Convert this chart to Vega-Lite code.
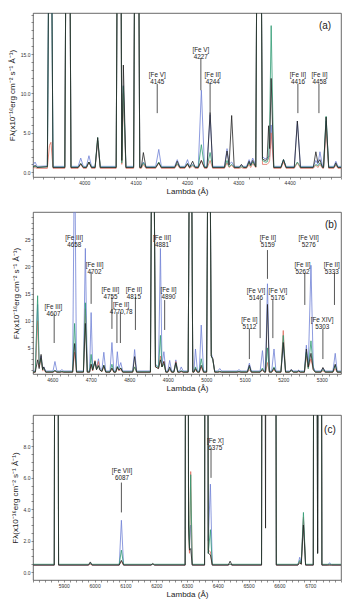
{
  "$schema": "https://vega.github.io/schema/vega-lite/v6.json",
  "padding": {"left": 7, "top": 12, "right": 5, "bottom": 5},
  "spacing": 15,
  "config": {
    "font": "Liberation Sans",
    "view": {"stroke": "#444", "strokeWidth": 0.8},
    "axis": {"labelFont": "Liberation Sans", "labelFontSize": 5, "labelColor": "#333", "titleFont": "Liberation Sans", "titleFontSize": 8, "titleFontWeight": "normal", "titleColor": "#222", "domain": false, "grid": false, "tickColor": "#444", "tickSize": 2, "tickWidth": 0.6, "labelPadding": 1},
    "axisX": {"titlePadding": 2},
    "axisY": {"titlePadding": 4, "labelPadding": 1}
  },
  "datasets": {
    "specA": [
      {"lam":3900,"blue":0.9,"red":0.5,"green":0.65,"black":0.6},
      {"lam":3904,"blue":1.3,"red":0.6,"green":0.75,"black":0.9},
      {"lam":3908,"blue":0.75,"red":0.5,"green":0.65,"black":0.6},
      {"lam":3928,"blue":0.8,"red":0.5,"green":0.7,"black":0.7},
      {"lam":3932,"blue":40,"red":3.4,"green":40,"black":40},
      {"lam":3935,"blue":40,"red":3.8,"green":40,"black":40},
      {"lam":3939,"blue":0.75,"red":0.5,"green":0.65,"black":0.6},
      {"lam":3962,"blue":0.75,"red":0.5,"green":0.65,"black":0.6},
      {"lam":3966.5,"blue":60,"red":60,"green":60,"black":60},
      {"lam":3969.5,"blue":60,"red":60,"green":60,"black":60},
      {"lam":3974,"blue":0.75,"red":0.5,"green":0.65,"black":0.6},
      {"lam":3988,"blue":0.75,"red":0.5,"green":0.65,"black":0.6},
      {"lam":3993,"blue":1.8,"red":1.0,"green":1.1,"black":1.1},
      {"lam":3998,"blue":0.75,"red":0.5,"green":0.65,"black":0.6},
      {"lam":4004,"blue":0.75,"red":0.5,"green":0.65,"black":0.6},
      {"lam":4009,"blue":2.1,"red":1.3,"green":1.3,"black":1.3},
      {"lam":4014,"blue":0.75,"red":0.5,"green":0.65,"black":0.6},
      {"lam":4021,"blue":0.75,"red":0.5,"green":0.65,"black":0.6},
      {"lam":4026,"blue":4.0,"red":4.0,"green":4.4,"black":4.4},
      {"lam":4031,"blue":0.75,"red":0.5,"green":0.65,"black":0.6},
      {"lam":4062,"blue":0.75,"red":0.5,"green":0.65,"black":0.6},
      {"lam":4066.5,"blue":60,"red":60,"green":60,"black":60},
      {"lam":4069.5,"blue":60,"red":60,"green":60,"black":60},
      {"lam":4073,"blue":2,"red":1,"green":1.2,"black":1.5},
      {"lam":4076,"blue":11,"red":10,"green":10.9,"black":13.6},
      {"lam":4081,"blue":0.75,"red":0.5,"green":0.65,"black":0.6},
      {"lam":4096,"blue":0.75,"red":0.5,"green":0.65,"black":0.6},
      {"lam":4100.5,"blue":60,"red":60,"green":60,"black":60},
      {"lam":4103.5,"blue":60,"red":60,"green":60,"black":60},
      {"lam":4108,"blue":0.75,"red":0.5,"green":0.65,"black":0.6},
      {"lam":4111,"blue":0.75,"red":0.5,"green":0.65,"black":0.6},
      {"lam":4115,"blue":1.3,"red":1.0,"green":1.2,"black":2.5},
      {"lam":4120,"blue":0.75,"red":0.5,"green":0.65,"black":0.6},
      {"lam":4139,"blue":0.75,"red":0.5,"green":0.65,"black":0.6},
      {"lam":4145,"blue":2.9,"red":1.2,"green":1.3,"black":1.2},
      {"lam":4150,"blue":0.75,"red":0.5,"green":0.65,"black":0.6},
      {"lam":4176,"blue":0.75,"red":0.5,"green":0.65,"black":0.6},
      {"lam":4181,"blue":1.6,"red":1.0,"green":1.1,"black":1.4},
      {"lam":4186,"blue":0.75,"red":0.5,"green":0.65,"black":0.6},
      {"lam":4196,"blue":0.75,"red":0.5,"green":0.65,"black":0.6},
      {"lam":4201,"blue":1.6,"red":1.0,"green":1.1,"black":1.1},
      {"lam":4205,"blue":0.75,"red":0.5,"green":0.65,"black":0.6},
      {"lam":4211,"blue":1.0,"red":0.8,"green":0.9,"black":1.4},
      {"lam":4216,"blue":0.75,"red":0.5,"green":0.65,"black":0.6},
      {"lam":4222,"blue":0.75,"red":0.5,"green":0.65,"black":0.6},
      {"lam":4228,"blue":10.4,"red":1.5,"green":3.5,"black":1.5},
      {"lam":4234,"blue":0.75,"red":0.5,"green":0.65,"black":0.6},
      {"lam":4239,"blue":0.75,"red":0.5,"green":0.65,"black":0.6},
      {"lam":4245,"blue":7.3,"red":1.5,"green":2.5,"black":7.6},
      {"lam":4250,"blue":0.75,"red":0.5,"green":0.65,"black":0.6},
      {"lam":4273,"blue":0.75,"red":0.5,"green":0.65,"black":0.6},
      {"lam":4278,"blue":3.0,"red":1.2,"green":1.5,"black":2.7},
      {"lam":4282,"blue":1.0,"red":0.6,"green":0.7,"black":0.9},
      {"lam":4287,"blue":1.3,"red":0.9,"green":1.0,"black":7.2},
      {"lam":4292,"blue":0.75,"red":0.5,"green":0.65,"black":0.6},
      {"lam":4302,"blue":0.75,"red":0.5,"green":0.65,"black":0.6},
      {"lam":4306,"blue":0.9,"red":0.6,"green":0.7,"black":1.0},
      {"lam":4310,"blue":0.75,"red":0.5,"green":0.65,"black":0.6},
      {"lam":4316,"blue":0.75,"red":0.5,"green":0.65,"black":0.6},
      {"lam":4321,"blue":1.6,"red":1.0,"green":1.2,"black":1.4},
      {"lam":4324,"blue":1.0,"red":0.6,"green":0.8,"black":0.9},
      {"lam":4328,"blue":1.8,"red":1.1,"green":1.3,"black":1.5},
      {"lam":4334,"blue":0.9,"red":0.6,"green":0.7,"black":0.7},
      {"lam":4338.5,"blue":60,"red":60,"green":60,"black":60},
      {"lam":4341.5,"blue":60,"red":60,"green":60,"black":60},
      {"lam":4347,"blue":2,"red":1,"green":1.5,"black":1.7},
      {"lam":4352,"blue":1.7,"red":1,"green":1.3,"black":1.5},
      {"lam":4356,"blue":1.8,"red":1.0,"green":1.3,"black":1.6},
      {"lam":4359,"blue":2,"red":1.2,"green":1.8,"black":5.9},
      {"lam":4361,"blue":2,"red":1.5,"green":6,"black":3},
      {"lam":4364,"blue":6,"red":5,"green":18.6,"black":11.9},
      {"lam":4369,"blue":0.75,"red":0.5,"green":0.65,"black":0.6},
      {"lam":4383,"blue":0.75,"red":0.5,"green":0.65,"black":0.6},
      {"lam":4388,"blue":1.6,"red":1.3,"green":1.6,"black":1.6},
      {"lam":4393,"blue":0.75,"red":0.5,"green":0.65,"black":0.6},
      {"lam":4409,"blue":0.75,"red":0.5,"green":0.65,"black":0.6},
      {"lam":4415,"blue":6.5,"red":1.2,"green":1.3,"black":6.5},
      {"lam":4421,"blue":0.75,"red":0.5,"green":0.65,"black":0.6},
      {"lam":4446,"blue":0.75,"red":0.5,"green":0.65,"black":0.6},
      {"lam":4451,"blue":1.5,"red":0.9,"green":1.0,"black":2.6},
      {"lam":4455,"blue":1.0,"red":0.6,"green":0.8,"black":1.2},
      {"lam":4459,"blue":2.6,"red":1.0,"green":1.2,"black":1.6},
      {"lam":4464,"blue":0.75,"red":0.5,"green":0.65,"black":0.6},
      {"lam":4466,"blue":0.75,"red":0.5,"green":0.65,"black":0.6},
      {"lam":4471,"blue":6.5,"red":5.5,"green":7.1,"black":7.0},
      {"lam":4476,"blue":0.75,"red":0.5,"green":0.65,"black":0.6},
      {"lam":4486,"blue":0.75,"red":0.5,"green":0.65,"black":0.6},
      {"lam":4490,"blue":1.4,"red":0.9,"green":1.0,"black":1.2},
      {"lam":4494,"blue":0.75,"red":0.5,"green":0.65,"black":0.6},
      {"lam":4500,"blue":0.75,"red":0.5,"green":0.65,"black":0.6}
    ],
    "specB": [
      {"lam":4550,"blue":0.75,"red":0.5,"green":0.6,"black":0.55},
      {"lam":4556,"blue":0.75,"red":0.5,"green":0.6,"black":0.55},
      {"lam":4562,"blue":13.0,"red":10.0,"green":14.6,"black":2.8},
      {"lam":4566,"blue":2.0,"red":1.5,"green":2.0,"black":1.2},
      {"lam":4571,"blue":3.5,"red":3.0,"green":3.0,"black":3.8},
      {"lam":4575,"blue":1.2,"red":0.8,"green":1.0,"black":1.0},
      {"lam":4578,"blue":1.5,"red":1.0,"green":1.2,"black":1.5},
      {"lam":4583,"blue":0.75,"red":0.5,"green":0.6,"black":0.55},
      {"lam":4602,"blue":0.75,"red":0.5,"green":0.6,"black":0.55},
      {"lam":4607,"blue":2.5,"red":0.8,"green":0.9,"black":0.8},
      {"lam":4612,"blue":0.75,"red":0.5,"green":0.6,"black":0.55},
      {"lam":4620,"blue":0.75,"red":0.5,"green":0.6,"black":0.55},
      {"lam":4625,"blue":1.0,"red":0.6,"green":0.7,"black":0.6},
      {"lam":4630,"blue":0.75,"red":0.5,"green":0.6,"black":0.55},
      {"lam":4653,"blue":0.75,"red":0.5,"green":0.6,"black":0.55},
      {"lam":4658,"blue":45,"red":4.2,"green":9.5,"black":5.8},
      {"lam":4663,"blue":0.75,"red":0.5,"green":0.6,"black":0.55},
      {"lam":4681,"blue":0.75,"red":0.5,"green":0.6,"black":0.55},
      {"lam":4686,"blue":23.3,"red":12.2,"green":13.3,"black":9.5},
      {"lam":4691,"blue":0.75,"red":0.5,"green":0.6,"black":0.55},
      {"lam":4697,"blue":0.75,"red":0.5,"green":0.6,"black":0.55},
      {"lam":4701,"blue":11.5,"red":2.0,"green":3.8,"black":2.0},
      {"lam":4705,"blue":1.2,"red":0.8,"green":1.0,"black":0.9},
      {"lam":4711,"blue":2.5,"red":2.7,"green":2.5,"black":2.5},
      {"lam":4715,"blue":1.2,"red":1.0,"green":1.0,"black":1.0},
      {"lam":4720,"blue":3.0,"red":2.5,"green":1.8,"black":1.7},
      {"lam":4724,"blue":1.3,"red":0.9,"green":1.0,"black":0.9},
      {"lam":4729,"blue":1.0,"red":0.6,"green":0.7,"black":0.7},
      {"lam":4734,"blue":4.2,"red":1.5,"green":1.8,"black":1.8},
      {"lam":4739,"blue":0.75,"red":0.5,"green":0.6,"black":0.55},
      {"lam":4750,"blue":0.75,"red":0.5,"green":0.6,"black":0.55},
      {"lam":4755,"blue":6.0,"red":1.2,"green":2.0,"black":1.3},
      {"lam":4760,"blue":0.75,"red":0.5,"green":0.6,"black":0.55},
      {"lam":4765,"blue":0.75,"red":0.5,"green":0.6,"black":0.55},
      {"lam":4769,"blue":4.3,"red":1.3,"green":1.6,"black":1.5},
      {"lam":4773,"blue":1.2,"red":0.8,"green":1.0,"black":0.9},
      {"lam":4778,"blue":2.3,"red":1.0,"green":1.3,"black":1.3},
      {"lam":4783,"blue":0.75,"red":0.5,"green":0.6,"black":0.55},
      {"lam":4809,"blue":0.75,"red":0.5,"green":0.6,"black":0.55},
      {"lam":4814,"blue":4.7,"red":1.5,"green":1.5,"black":3.4},
      {"lam":4819,"blue":0.75,"red":0.5,"green":0.6,"black":0.55},
      {"lam":4855,"blue":0.75,"red":0.5,"green":0.6,"black":0.55},
      {"lam":4859.5,"blue":60,"red":60,"green":60,"black":60},
      {"lam":4862.5,"blue":60,"red":60,"green":60,"black":60},
      {"lam":4868,"blue":2,"red":1.5,"green":1.8,"black":1.5},
      {"lam":4876,"blue":1.5,"red":1.2,"green":1.4,"black":1.2},
      {"lam":4881,"blue":23.3,"red":3.5,"green":7.3,"black":2.8},
      {"lam":4885,"blue":2,"red":1.5,"green":1.5,"black":1.5},
      {"lam":4890,"blue":4.3,"red":2.5,"green":2.0,"black":2.5},
      {"lam":4895,"blue":0.75,"red":0.5,"green":0.6,"black":0.55},
      {"lam":4900,"blue":0.75,"red":0.5,"green":0.6,"black":0.55},
      {"lam":4905,"blue":2.7,"red":1.0,"green":1.2,"black":1.5},
      {"lam":4910,"blue":0.75,"red":0.5,"green":0.6,"black":0.55},
      {"lam":4916,"blue":0.75,"red":0.5,"green":0.6,"black":0.55},
      {"lam":4921,"blue":2.8,"red":2.5,"green":2.2,"black":2.3},
      {"lam":4926,"blue":0.75,"red":0.5,"green":0.6,"black":0.55},
      {"lam":4931,"blue":0.75,"red":0.5,"green":0.6,"black":0.55},
      {"lam":4935,"blue":1.5,"red":0.6,"green":0.8,"black":0.7},
      {"lam":4940,"blue":0.75,"red":0.5,"green":0.6,"black":0.55},
      {"lam":4953,"blue":0.75,"red":0.5,"green":0.6,"black":0.55},
      {"lam":4957.5,"blue":60,"red":60,"green":60,"black":60},
      {"lam":4960.5,"blue":60,"red":60,"green":60,"black":60},
      {"lam":4965,"blue":0.75,"red":0.5,"green":0.6,"black":0.55},
      {"lam":4968,"blue":0.75,"red":0.5,"green":0.6,"black":0.55},
      {"lam":4972,"blue":4.8,"red":1.0,"green":1.5,"black":1.2},
      {"lam":4977,"blue":0.75,"red":0.5,"green":0.6,"black":0.55},
      {"lam":4982,"blue":0.75,"red":0.5,"green":0.6,"black":0.55},
      {"lam":4987,"blue":9.2,"red":1.5,"green":3.0,"black":1.8},
      {"lam":4993,"blue":0.75,"red":0.5,"green":0.6,"black":0.55},
      {"lam":5001,"blue":0.75,"red":0.5,"green":0.6,"black":0.55},
      {"lam":5005.5,"blue":60,"red":60,"green":60,"black":60},
      {"lam":5008.5,"blue":60,"red":60,"green":60,"black":60},
      {"lam":5013,"blue":4,"red":3.5,"green":3.5,"black":3.5},
      {"lam":5017,"blue":3.0,"red":3.0,"green":2.8,"black":3.0},
      {"lam":5022,"blue":0.75,"red":0.5,"green":0.6,"black":0.55},
      {"lam":5030,"blue":0.75,"red":0.5,"green":0.6,"black":0.55},
      {"lam":5035,"blue":1.2,"red":0.6,"green":0.7,"black":0.6},
      {"lam":5040,"blue":0.75,"red":0.5,"green":0.6,"black":0.55},
      {"lam":5080,"blue":0.75,"red":0.5,"green":0.6,"black":0.55},
      {"lam":5085,"blue":1.0,"red":0.6,"green":0.7,"black":0.6},
      {"lam":5090,"blue":0.75,"red":0.5,"green":0.6,"black":0.55},
      {"lam":5107,"blue":0.75,"red":0.5,"green":0.6,"black":0.55},
      {"lam":5112,"blue":2.2,"red":1.0,"green":1.5,"black":1.8},
      {"lam":5117,"blue":0.75,"red":0.5,"green":0.6,"black":0.55},
      {"lam":5140,"blue":0.75,"red":0.5,"green":0.6,"black":0.55},
      {"lam":5146,"blue":4.5,"red":1.0,"green":1.3,"black":1.0},
      {"lam":5151,"blue":0.75,"red":0.5,"green":0.6,"black":0.55},
      {"lam":5154,"blue":0.75,"red":0.5,"green":0.6,"black":0.55},
      {"lam":5159,"blue":16.8,"red":2.3,"green":5.0,"black":13.0},
      {"lam":5164,"blue":0.75,"red":0.5,"green":0.6,"black":0.55},
      {"lam":5170,"blue":0.75,"red":0.5,"green":0.6,"black":0.55},
      {"lam":5176,"blue":4.8,"red":1.0,"green":1.5,"black":1.3},
      {"lam":5181,"blue":0.75,"red":0.5,"green":0.6,"black":0.55},
      {"lam":5194,"blue":0.75,"red":0.5,"green":0.6,"black":0.55},
      {"lam":5200,"blue":5.5,"red":8.2,"green":7.3,"black":6.0},
      {"lam":5206,"blue":0.75,"red":0.5,"green":0.6,"black":0.55},
      {"lam":5216,"blue":0.75,"red":0.5,"green":0.6,"black":0.55},
      {"lam":5221,"blue":1.0,"red":0.8,"green":0.8,"black":1.0},
      {"lam":5226,"blue":0.75,"red":0.5,"green":0.6,"black":0.55},
      {"lam":5236,"blue":0.75,"red":0.5,"green":0.6,"black":0.55},
      {"lam":5240,"blue":0.9,"red":0.6,"green":0.7,"black":0.8},
      {"lam":5244,"blue":0.75,"red":0.5,"green":0.6,"black":0.55},
      {"lam":5255,"blue":0.75,"red":0.5,"green":0.6,"black":0.55},
      {"lam":5260,"blue":5.5,"red":3.5,"green":4.2,"black":4.8},
      {"lam":5265,"blue":1.5,"red":1.2,"green":1.2,"black":1.5},
      {"lam":5272,"blue":20.2,"red":3.0,"green":6.3,"black":4.0},
      {"lam":5278,"blue":1.5,"red":1.0,"green":1.2,"black":1.0},
      {"lam":5283,"blue":0.75,"red":0.5,"green":0.6,"black":0.55},
      {"lam":5298,"blue":0.75,"red":0.5,"green":0.6,"black":0.55},
      {"lam":5303,"blue":1.3,"red":0.8,"green":1.0,"black":1.4},
      {"lam":5309,"blue":0.75,"red":0.5,"green":0.6,"black":0.55},
      {"lam":5329,"blue":0.75,"red":0.5,"green":0.6,"black":0.55},
      {"lam":5335,"blue":4.0,"red":1.2,"green":1.8,"black":2.0},
      {"lam":5340,"blue":0.75,"red":0.5,"green":0.6,"black":0.55},
      {"lam":5350,"blue":0.75,"red":0.5,"green":0.6,"black":0.55}
    ],
    "specC": [
      {"lam":5800,"blue":0.45,"red":0.45,"green":0.5,"black":0.45},
      {"lam":5869,"blue":0.45,"red":0.45,"green":0.5,"black":0.45},
      {"lam":5874.5,"blue":60,"red":60,"green":60,"black":60},
      {"lam":5877.5,"blue":60,"red":60,"green":60,"black":60},
      {"lam":5883,"blue":0.45,"red":0.45,"green":0.5,"black":0.45},
      {"lam":5980,"blue":0.45,"red":0.45,"green":0.5,"black":0.45},
      {"lam":5986,"blue":0.55,"red":0.5,"green":0.55,"black":0.65},
      {"lam":5992,"blue":0.45,"red":0.45,"green":0.5,"black":0.45},
      {"lam":6080,"blue":0.45,"red":0.45,"green":0.5,"black":0.45},
      {"lam":6087,"blue":3.3,"red":0.7,"green":1.4,"black":0.75},
      {"lam":6094,"blue":0.45,"red":0.45,"green":0.5,"black":0.45},
      {"lam":6183,"blue":0.45,"red":0.45,"green":0.5,"black":0.45},
      {"lam":6189,"blue":0.5,"red":0.5,"green":0.5,"black":0.55},
      {"lam":6195,"blue":0.45,"red":0.45,"green":0.5,"black":0.45},
      {"lam":6294,"blue":0.45,"red":0.45,"green":0.5,"black":0.45},
      {"lam":6298.5,"blue":60,"red":60,"green":60,"black":60},
      {"lam":6301.5,"blue":60,"red":60,"green":60,"black":60},
      {"lam":6305,"blue":3,"red":3,"green":3,"black":3},
      {"lam":6308,"blue":2,"red":1.2,"green":1.5,"black":1.4},
      {"lam":6312,"blue":3.0,"red":6.4,"green":6.2,"black":1.5},
      {"lam":6317,"blue":0.45,"red":0.45,"green":0.5,"black":0.45},
      {"lam":6357,"blue":0.45,"red":0.45,"green":0.5,"black":0.45},
      {"lam":6361.5,"blue":60,"red":60,"green":60,"black":60},
      {"lam":6364.5,"blue":60,"red":60,"green":60,"black":60},
      {"lam":6369,"blue":2,"red":1.4,"green":1.2,"black":1.2},
      {"lam":6376,"blue":5.6,"red":1.3,"green":2.7,"black":1.1},
      {"lam":6382,"blue":0.45,"red":0.45,"green":0.5,"black":0.45},
      {"lam":6434,"blue":0.45,"red":0.45,"green":0.5,"black":0.45},
      {"lam":6440,"blue":0.5,"red":0.5,"green":0.5,"black":0.7},
      {"lam":6446,"blue":0.45,"red":0.45,"green":0.5,"black":0.45},
      {"lam":6542,"blue":0.45,"red":0.45,"green":0.5,"black":0.45},
      {"lam":6546.5,"blue":60,"red":60,"green":60,"black":60},
      {"lam":6549.5,"blue":60,"red":60,"green":60,"black":60},
      {"lam":6555,"blue":12,"red":12,"green":12,"black":2.8},
      {"lam":6561.5,"blue":100,"red":100,"green":100,"black":100},
      {"lam":6564.5,"blue":100,"red":100,"green":100,"black":100},
      {"lam":6574,"blue":12,"red":12,"green":12,"black":12},
      {"lam":6581.5,"blue":60,"red":60,"green":60,"black":60},
      {"lam":6584.5,"blue":60,"red":60,"green":60,"black":60},
      {"lam":6590,"blue":0.45,"red":0.45,"green":0.5,"black":0.45},
      {"lam":6660,"blue":0.45,"red":0.45,"green":0.5,"black":0.45},
      {"lam":6666,"blue":0.95,"red":0.7,"green":0.75,"black":0.6},
      {"lam":6671,"blue":0.6,"red":0.5,"green":0.55,"black":0.5},
      {"lam":6678,"blue":3.4,"red":3.5,"green":3.8,"black":3.0},
      {"lam":6685,"blue":0.45,"red":0.45,"green":0.5,"black":0.45},
      {"lam":6710,"blue":0.45,"red":0.45,"green":0.5,"black":0.45},
      {"lam":6714.5,"blue":60,"red":60,"green":60,"black":60},
      {"lam":6717.5,"blue":60,"red":60,"green":60,"black":60},
      {"lam":6724,"blue":1.2,"red":1.2,"green":1.2,"black":1.2},
      {"lam":6729.5,"blue":60,"red":60,"green":60,"black":60},
      {"lam":6732.5,"blue":60,"red":60,"green":60,"black":60},
      {"lam":6738,"blue":0.45,"red":0.45,"green":0.5,"black":0.45},
      {"lam":6757,"blue":0.45,"red":0.45,"green":0.5,"black":0.45},
      {"lam":6763,"blue":0.6,"red":0.45,"green":0.5,"black":0.45},
      {"lam":6769,"blue":0.45,"red":0.45,"green":0.5,"black":0.45},
      {"lam":6800,"blue":0.45,"red":0.45,"green":0.5,"black":0.45}
    ],
    "txtA": [
      {"x":4142,"y":12.3,"t":"[Fe V]\n4145"},
      {"x":4227,"y":15.5,"t":"[Fe V]\n4227"},
      {"x":4250,"y":12.3,"t":"[Fe II]\n4244"},
      {"x":4416,"y":12.3,"t":"[Fe II]\n4416"},
      {"x":4458,"y":12.3,"t":"[Fe II]\n4458"}
    ],
    "lnA": [
      {"x":4142,"y1":11.2,"y2":7.5},
      {"x":4227,"y1":14.5,"y2":10.4},
      {"x":4245,"y1":11.3,"y2":7.6},
      {"x":4416,"y1":11.2,"y2":7.5},
      {"x":4457,"y1":11.2,"y2":7.5}
    ],
    "txtB": [
      {"x":4603,"y":12.5,"t":"[Fe III]\n4607"},
      {"x":4657,"y":25.2,"t":"[Fe III]\n4658"},
      {"x":4710,"y":20.3,"t":"[Fe III]\n4702"},
      {"x":4751,"y":15.6,"t":"[Fe III]\n4755"},
      {"x":4779,"y":12.9,"t":"[Fe II]\n4770,78"},
      {"x":4812,"y":15.6,"t":"[Fe II]\n4815"},
      {"x":4885,"y":25.2,"t":"[Fe III]\n4881"},
      {"x":4902,"y":15.6,"t":"[Fe II]\n4890"},
      {"x":5112,"y":10.2,"t":"[Fe II]\n5112"},
      {"x":5129,"y":15.4,"t":"[Fe VI]\n5146"},
      {"x":5160,"y":25.2,"t":"[Fe II]\n5159"},
      {"x":5186,"y":15.4,"t":"[Fe VI]\n5176"},
      {"x":5266,"y":25.2,"t":"[Fe VII]\n5276"},
      {"x":5250,"y":20.3,"t":"[Fe II]\n5262"},
      {"x":5301,"y":10.2,"t":"[Fe XIV]\n5303"},
      {"x":5326,"y":20.3,"t":"[Fe II]\n5333"}
    ],
    "lnB": [
      {"x":4605,"y1":11.2,"y2":5.9},
      {"x":4701,"y1":19.0,"y2":13.1},
      {"x":4755,"y1":14.4,"y2":8.5},
      {"x":4768,"y1":11.6,"y2":5.9},
      {"x":4777,"y1":11.6,"y2":5.9},
      {"x":4816,"y1":14.4,"y2":8.3},
      {"x":4892,"y1":13.8,"y2":8.3},
      {"x":5112,"y1":8.5,"y2":2.95},
      {"x":5140,"y1":13.8,"y2":6.8},
      {"x":5159,"y1":23.0,"y2":17.7},
      {"x":5173,"y1":13.8,"y2":6.8},
      {"x":5256,"y1":18.8,"y2":12.9},
      {"x":5303,"y1":8.5,"y2":2.95},
      {"x":5333,"y1":18.8,"y2":12.9}
    ],
    "txtC": [
      {"x":6089,"y":6.46,"t":"[Fe VII]\n6087"},
      {"x":6392,"y":8.36,"t":"[Fe X]\n6375"}
    ],
    "lnC": [
      {"x":6087,"y1":5.7,"y2":3.8},
      {"x":6378,"y1":7.87,"y2":6.0}
    ]
  },
  "vconcat": [
    {
      "width": 308, "height": 164,
      "encoding": {
        "x": {"type": "quantitative", "scale": {"domain": [3900, 4500], "nice": false, "zero": false},
              "axis": {"title": "Lambda (Å)", "values": [3900,3920,3940,3960,3980,4000,4020,4040,4060,4080,4100,4120,4140,4160,4180,4200,4220,4240,4260,4280,4300,4320,4340,4360,4380,4400,4420,4440,4460,4480,4500],
                       "labelExpr": "datum.value % 100 === 0 && datum.value > 3900 && datum.value < 4500 ? datum.label : ''", "format": "d"}},
        "y": {"type": "quantitative", "scale": {"domain": [-0.6, 20.2], "nice": false, "zero": false},
              "axis": {"title": "Fλ(x10⁻¹⁶erg cm⁻² s⁻¹ Å⁻¹)", "values": [0,1,2,3,4,5,6,7,8,9,10,11,12,13,14,15,16,17,18,19,20],
                       "labelExpr": "datum.value % 5 === 0 && datum.value < 20 ? format(datum.value, '.1f') : ''"}}
      },
      "layer": [
        {"data": {"name": "specA"}, "mark": {"type": "line", "color": "#7082d6", "strokeWidth": 0.8, "clip": true}, "encoding": {"x": {"field": "lam"}, "y": {"field": "blue"}}},
        {"data": {"name": "specA"}, "mark": {"type": "line", "color": "#e0705f", "strokeWidth": 0.8, "clip": true}, "encoding": {"x": {"field": "lam"}, "y": {"field": "red"}}},
        {"data": {"name": "specA"}, "mark": {"type": "line", "color": "#2f9a72", "strokeWidth": 0.8, "clip": true}, "encoding": {"x": {"field": "lam"}, "y": {"field": "green"}}},
        {"data": {"name": "specA"}, "mark": {"type": "line", "color": "#222222", "strokeWidth": 0.8, "clip": true}, "encoding": {"x": {"field": "lam"}, "y": {"field": "black"}}},
        {"data": {"name": "lnA"}, "mark": {"type": "rule", "color": "#444", "strokeWidth": 0.9}, "encoding": {"x": {"field": "x"}, "y": {"field": "y1"}, "y2": {"field": "y2"}}},
        {"data": {"name": "txtA"}, "mark": {"type": "text", "fontSize": 6.3, "lineHeight": 6.5, "lineBreak": "\n", "baseline": "middle", "align": "center", "color": "#222"}, "encoding": {"x": {"field": "x"}, "y": {"field": "y"}, "text": {"field": "t"}}},
        {"data": {"values": [{"x": 4469, "y": 18.6, "t": "(a)"}]}, "mark": {"type": "text", "fontSize": 10, "baseline": "middle", "align": "center", "color": "#222"}, "encoding": {"x": {"field": "x"}, "y": {"field": "y"}, "text": {"field": "t"}}}
      ]
    },
    {
      "width": 308, "height": 162,
      "encoding": {
        "x": {"type": "quantitative", "scale": {"domain": [4550, 5350], "nice": false, "zero": false},
              "axis": {"title": ["Lambda (Å)", " "], "titleLineHeight": 6, "values": [4560,4580,4600,4620,4640,4660,4680,4700,4720,4740,4760,4780,4800,4820,4840,4860,4880,4900,4920,4940,4960,4980,5000,5020,5040,5060,5080,5100,5120,5140,5160,5180,5200,5220,5240,5260,5280,5300,5320,5340],
                       "labelExpr": "datum.value % 100 === 0 ? datum.label : ''", "format": "d"}},
        "y": {"type": "quantitative", "scale": {"domain": [0.2, 30], "nice": false, "zero": false},
              "axis": {"title": "Fλ(x10⁻¹⁶erg cm⁻² s⁻¹ Å⁻¹)", "values": [1,2,3,4,5,6,7,8,9,10,11,12,13,14,15,16,17,18,19,20,21,22,23,24,25,26,27,28,29],
                       "labelExpr": "datum.value % 5 === 0 ? datum.label : ''", "format": "d"}}
      },
      "layer": [
        {"data": {"name": "specB"}, "mark": {"type": "line", "color": "#7082d6", "strokeWidth": 0.8, "clip": true}, "encoding": {"x": {"field": "lam"}, "y": {"field": "blue"}}},
        {"data": {"name": "specB"}, "mark": {"type": "line", "color": "#e0705f", "strokeWidth": 0.8, "clip": true}, "encoding": {"x": {"field": "lam"}, "y": {"field": "red"}}},
        {"data": {"name": "specB"}, "mark": {"type": "line", "color": "#2f9a72", "strokeWidth": 0.8, "clip": true}, "encoding": {"x": {"field": "lam"}, "y": {"field": "green"}}},
        {"data": {"name": "specB"}, "mark": {"type": "line", "color": "#222222", "strokeWidth": 0.8, "clip": true}, "encoding": {"x": {"field": "lam"}, "y": {"field": "black"}}},
        {"data": {"name": "lnB"}, "mark": {"type": "rule", "color": "#444", "strokeWidth": 0.9}, "encoding": {"x": {"field": "x"}, "y": {"field": "y1"}, "y2": {"field": "y2"}}},
        {"data": {"name": "txtB"}, "mark": {"type": "text", "fontSize": 6.3, "lineHeight": 7, "lineBreak": "\n", "baseline": "middle", "align": "center", "color": "#222"}, "encoding": {"x": {"field": "x"}, "y": {"field": "y"}, "text": {"field": "t"}}},
        {"data": {"values": [{"x": 5324, "y": 27.6, "t": "(b)"}]}, "mark": {"type": "text", "fontSize": 10, "baseline": "middle", "align": "center", "color": "#222"}, "encoding": {"x": {"field": "x"}, "y": {"field": "y"}, "text": {"field": "t"}}}
      ]
    },
    {
      "width": 308, "height": 165,
      "encoding": {
        "x": {"type": "quantitative", "scale": {"domain": [5800, 6800], "nice": false, "zero": false},
              "axis": {"title": "Lambda (Å)", "values": [5800,5820,5840,5860,5880,5900,5920,5940,5960,5980,6000,6020,6040,6060,6080,6100,6120,6140,6160,6180,6200,6220,6240,6260,6280,6300,6320,6340,6360,6380,6400,6420,6440,6460,6480,6500,6520,6540,6560,6580,6600,6620,6640,6660,6680,6700,6720,6740,6760,6780,6800],
                       "labelExpr": "datum.value % 100 === 0 && datum.value > 5800 && datum.value < 6800 ? datum.label : ''", "format": "d"}},
        "y": {"type": "quantitative", "scale": {"domain": [-0.5, 10], "nice": false, "zero": false},
              "axis": {"title": "Fλ(x10⁻¹⁶erg cm⁻² s⁻¹ Å⁻¹)", "values": [0,0.5,1,1.5,2,2.5,3,3.5,4,4.5,5,5.5,6,6.5,7,7.5,8,8.5,9,9.5],
                       "labelExpr": "datum.value % 2 === 0 ? format(datum.value, '.1f') : ''"}}
      },
      "layer": [
        {"data": {"name": "specC"}, "mark": {"type": "line", "color": "#7082d6", "strokeWidth": 0.8, "clip": true}, "encoding": {"x": {"field": "lam"}, "y": {"field": "blue"}}},
        {"data": {"name": "specC"}, "mark": {"type": "line", "color": "#e0705f", "strokeWidth": 0.8, "clip": true}, "encoding": {"x": {"field": "lam"}, "y": {"field": "red"}}},
        {"data": {"name": "specC"}, "mark": {"type": "line", "color": "#2f9a72", "strokeWidth": 0.8, "clip": true}, "encoding": {"x": {"field": "lam"}, "y": {"field": "green"}}},
        {"data": {"name": "specC"}, "mark": {"type": "line", "color": "#222222", "strokeWidth": 0.8, "clip": true}, "encoding": {"x": {"field": "lam"}, "y": {"field": "black"}}},
        {"data": {"name": "lnC"}, "mark": {"type": "rule", "color": "#444", "strokeWidth": 0.9}, "encoding": {"x": {"field": "x"}, "y": {"field": "y1"}, "y2": {"field": "y2"}}},
        {"data": {"name": "txtC"}, "mark": {"type": "text", "fontSize": 6.3, "lineHeight": 7, "lineBreak": "\n", "baseline": "middle", "align": "center", "color": "#222"}, "encoding": {"x": {"field": "x"}, "y": {"field": "y"}, "text": {"field": "t"}}},
        {"data": {"values": [{"x": 6764, "y": 9.03, "t": "(c)"}]}, "mark": {"type": "text", "fontSize": 10, "baseline": "middle", "align": "center", "color": "#222"}, "encoding": {"x": {"field": "x"}, "y": {"field": "y"}, "text": {"field": "t"}}}
      ]
    }
  ]
}
